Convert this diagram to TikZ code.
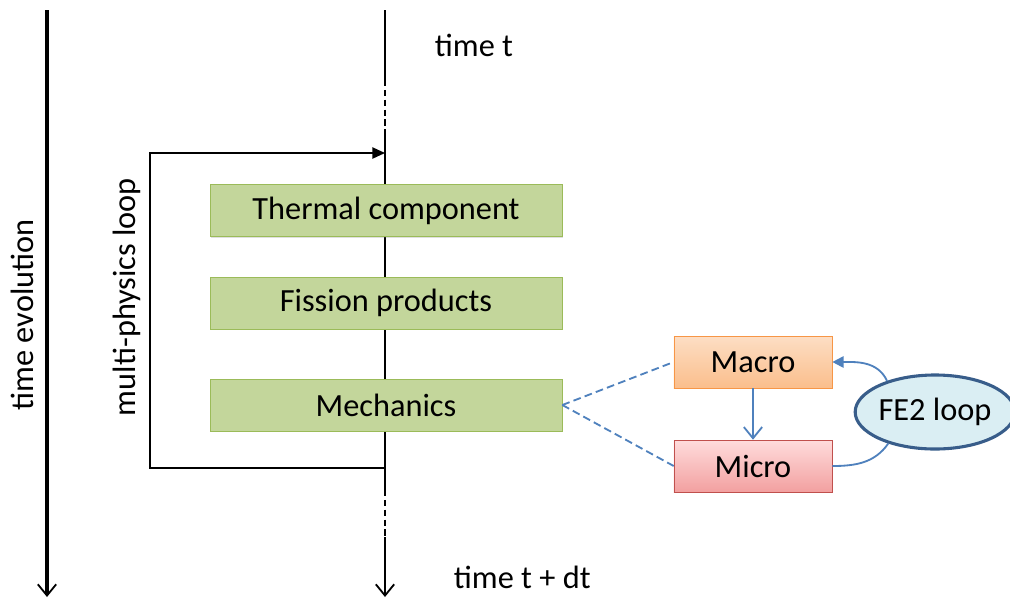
\documentclass[tikz,border=0pt]{standalone}
\usepackage{fontspec}
\setmainfont{Carlito}
\usepackage{xcolor}
\usepackage{tikz}
\usetikzlibrary{arrows.meta,shapes.geometric,shadows}
\definecolor{boxgreen}{RGB}{195, 214, 155}
\definecolor{boxgreenline}{RGB}{155, 187, 89}
\definecolor{macrotop}{RGB}{253, 222, 196}
\definecolor{macrobottom}{RGB}{250, 190, 140}
\definecolor{macroline}{RGB}{247, 150, 70}
\definecolor{microtop}{RGB}{255, 220, 220}
\definecolor{microbottom}{RGB}{242, 160, 160}
\definecolor{microline}{RGB}{192, 80, 77}
\definecolor{linkblue}{RGB}{79, 129, 189}
\definecolor{loopfill}{RGB}{218, 238, 243}
\definecolor{loopline}{RGB}{56, 93, 138}

\begin{document}
\begin{tikzpicture}[x=0.025cm, y=-0.025cm,
  font=\fontsize{23}{27}\selectfont,
  physbox/.style={draw=boxgreenline, fill=boxgreen, minimum width=8.8cm, minimum height=1.3cm,
    drop shadow={opacity=0.25, shadow xshift=1pt, shadow yshift=-1pt}},
  scalebox/.style={minimum width=3.95cm, minimum height=1.3cm,
    drop shadow={opacity=0.25, shadow xshift=1pt, shadow yshift=-1pt}},
  axislabel/.style={rotate=90, anchor=center},
  timeline/.style={line width=1.3pt},
  gap/.style={dash pattern=on 4.5pt off 2.5pt},
  link/.style={linkblue, line width=1.3pt, dash pattern=on 5.5pt off 3pt},
  bluearrow/.style={linkblue, line width=1.3pt},
  barb/.style={-{Straight Barb[length=8pt, width=13pt, line width=1.3pt]}}
]
\useasboundingbox (0,0) rectangle (1010,600);

% time axis
\coordinate (evtop) at (47,10);
\coordinate (evbot) at (47,597);
\draw[barb, line width=2.2pt] (evtop) -- (evbot);
\node[axislabel] (evlabel) at (22,315) {time evolution};

% main time line
\coordinate (ttop) at (385,10);
\coordinate (tdash1) at (385,80);
\coordinate (tdash2) at (385,133);
\coordinate (tdash3) at (385,490);
\coordinate (tdash4) at (385,537);
\coordinate (tbot) at (385,597);
\draw[timeline] (ttop) -- (tdash1);
\draw[timeline, gap] (tdash1) -- (tdash2);
\draw[timeline] (tdash2) -- (tdash3);
\draw[timeline, gap] (tdash3) -- (tdash4);
\draw[timeline, barb] (tdash4) -- (tbot);
\node[anchor=west] (tstart) at (430,45) {time t};
\node[anchor=west] (tend) at (449,577) {time t + dt};

% multi-physics loop
\coordinate (loopin) at (385,153);
\coordinate (loopout) at (385,468);
\draw[-{Triangle[length=9pt, width=8pt]}, line width=1.1pt] (loopout) -- (150,468) -- (150,153) -- (loopin);
\node[axislabel] (looplabel) at (127,297) {multi-physics loop};

% physics components
\node[physbox] (thermal) at (386,210.5) {Thermal component};
\node[physbox] (fission) at (386,303) {Fission products};
\node[physbox] (mech) at (386,405) {Mechanics};

% FE2 scales
\node[scalebox, draw=macroline, top color=macrotop, bottom color=macrobottom] (macro) at (753,362) {Macro};
\node[scalebox, draw=microline, top color=microtop, bottom color=microbottom] (micro) at (753,466) {Micro};
\node[ellipse, draw=loopline, line width=2.2pt, fill=loopfill, minimum width=3.6cm, minimum height=1.85cm,
  inner sep=0pt] (fe) at (935,412) {FE2 loop};

\draw[link] (mech.east) -- (macro.west);
\draw[link] (mech.east) -- (micro.west);
\draw[bluearrow, barb] (macro.south) -- (micro.north);
\draw[bluearrow, -{Triangle[length=8pt, width=8pt]}] (fe.147) to[out=115, in=0] (macro.east);
\draw[bluearrow] (micro.east) to[out=0, in=235] (fe.214);
\end{tikzpicture}
\end{document}
